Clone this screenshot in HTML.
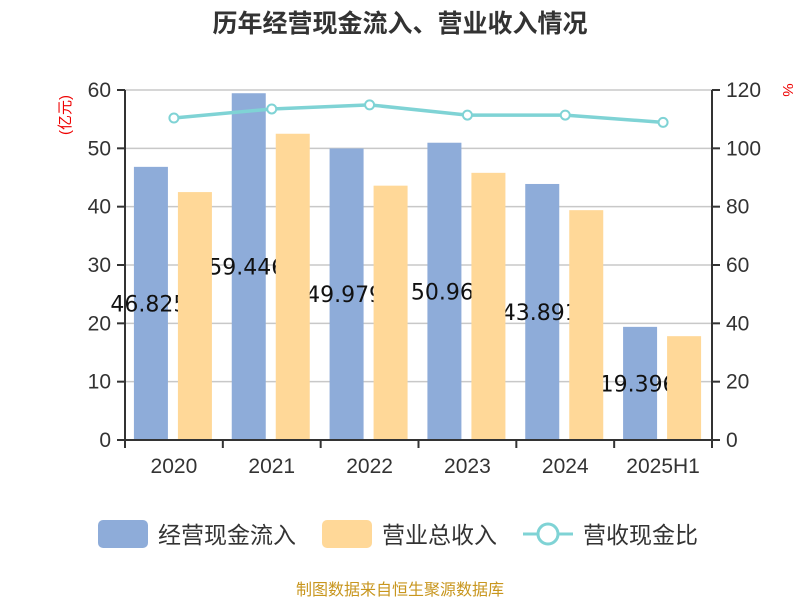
<!DOCTYPE html>
<html><head><meta charset="utf-8"><style>
body{margin:0;background:#fff;}
svg text{font-family:"Liberation Sans","Noto Sans CJK SC",sans-serif;}
</style></head><body>
<svg id="c" width="800" height="600" viewBox="0 0 800 600" xmlns="http://www.w3.org/2000/svg">
<text x="400" y="32" text-anchor="middle" font-size="25" font-weight="bold" fill="#333">历年经营现金流入、营业收入情况</text>
<text transform="translate(70,115) rotate(-90)" text-anchor="middle" font-size="15" fill="#e00">(亿元)</text>
<text transform="translate(783,90) rotate(90)" text-anchor="middle" font-size="15" fill="#e00">%</text>
<g id="grid"></g><g id="bars"></g><g id="axes"></g><g id="line"></g>
<g>
<rect x="98" y="520" width="50" height="28" rx="5" fill="#8eacd9"/>
<text x="158" y="543" font-size="23" fill="#333">经营现金流入</text>
<rect x="322" y="520" width="50" height="28" rx="5" fill="#ffd898"/>
<text x="382" y="543" font-size="23" fill="#333">营业总收入</text>
<line x1="523" y1="534" x2="573" y2="534" stroke="#7fd3d5" stroke-width="3"/>
<circle cx="548" cy="534" r="10" fill="#fff" stroke="#7fd3d5" stroke-width="3"/>
<text x="583" y="543" font-size="23" fill="#333">营收现金比</text>
</g>
<text x="400" y="595" text-anchor="middle" font-size="16" fill="#c8961e">制图数据来自恒生聚源数据库</text>
</svg>
<script>
const categories=["2020","2021","2022","2023","2024","2025H1"];
const cashInflow=[46.825,59.446,49.979,50.96,43.891,19.396];
const cashLabels=["46.825","59.446","49.979","50.96","43.891","19.396"];
const revenue=[42.5,52.5,43.6,45.8,39.4,17.8];
const ratio=[110.4,113.5,114.9,111.4,111.4,108.9];
const leftTicks=[0,10,20,30,40,50,60];
const rightTicks=[0,20,40,60,80,100,120];

const NS="http://www.w3.org/2000/svg";
const X0=125,X1=712,Y0=440,Y1=90;
const bw=(X1-X0)/categories.length;
const yL=v=>Y0-(v/60)*(Y0-Y1);
const yR=v=>Y0-(v/120)*(Y0-Y1);
const xc=i=>X0+bw*(i+0.5);
function mk(p,t,a){const e=document.createElementNS(NS,t);for(const k in a)e.setAttribute(k,a[k]);p.appendChild(e);return e;}
const grid=document.getElementById('grid'),bars=document.getElementById('bars'),axes=document.getElementById('axes'),line=document.getElementById('line');
leftTicks.forEach((t,i)=>{
 if(t>0){const g=mk(grid,'line',{x1:X0,x2:X1,y1:yL(t),y2:yL(t),stroke:'#c8c8c8','stroke-width':1.5});
 
 }
 const tk=mk(axes,'line',{x1:X0-8,x2:X0,y1:yL(t),y2:yL(t),stroke:'#333','stroke-width':2});
 
 
 const tx=mk(axes,'text',{x:X0-14,y:yL(t)+7,'text-anchor':'end','font-size':21,fill:'#333'});
 tx.textContent=t;
 
 
});
rightTicks.forEach(t=>{
 const tk=mk(axes,'line',{x1:X1,x2:X1+8,y1:yR(t),y2:yR(t),stroke:'#333','stroke-width':2});
 
 
 const tx=mk(axes,'text',{x:X1+14,y:yR(t)+7,'font-size':21,fill:'#333'});
 tx.textContent=t;
 
 
});
let a=mk(axes,'line',{x1:X0,x2:X0,y1:Y1,y2:Y0,stroke:'#333','stroke-width':2});

a=mk(axes,'line',{x1:X1,x2:X1,y1:Y1,y2:Y0,stroke:'#333','stroke-width':2});

a=mk(axes,'line',{x1:X0,x2:X1,y1:Y0,y2:Y0,stroke:'#333','stroke-width':2});

categories.forEach((c,i)=>{
 const tk=mk(axes,'line',{x1:X0+bw*i,x2:X0+bw*i,y1:Y0,y2:Y0+8,stroke:'#333','stroke-width':2});
 
 
 const tx=mk(axes,'text',{x:xc(i),y:Y0+33,'text-anchor':'middle','font-size':21,fill:'#333'});
 tx.textContent=c;
 
 
});
const t=mk(axes,'line',{x1:X1,x2:X1,y1:Y0,y2:Y0+8,stroke:'#333','stroke-width':2});

const w=34;
categories.forEach((c,i)=>{
 const bx=xc(i)-23-w/2;
 const b=mk(bars,'rect',{x:bx,y:yL(cashInflow[i]),width:w,height:Y0-yL(cashInflow[i]),fill:'#8eacd9'});
 
 
 const lb=mk(bars,'text',{x:bx+w/2-2,y:(yL(cashInflow[i])+Y0)/2+8,'text-anchor':'middle','font-size':22,fill:'#111',style:'font-family:"DejaVu Sans",sans-serif'});
 lb.textContent=cashLabels[i];
 
 
});
categories.forEach((c,i)=>{
 const ox=xc(i)+21-w/2;
 const b=mk(bars,'rect',{x:ox,y:yL(revenue[i]),width:w,height:Y0-yL(revenue[i]),fill:'#ffd898'});
 
 
});
const pl=mk(line,'polyline',{points:ratio.map((v,i)=>xc(i)+','+yR(v)).join(' '),fill:'none',stroke:'#7fd3d5','stroke-width':3.5});


ratio.forEach((v,i)=>{
 const p=mk(line,'circle',{cx:xc(i),cy:yR(v),r:4.5,fill:'#fff',stroke:'#7fd3d5','stroke-width':2});
 
 
});
</script>
</body></html>
